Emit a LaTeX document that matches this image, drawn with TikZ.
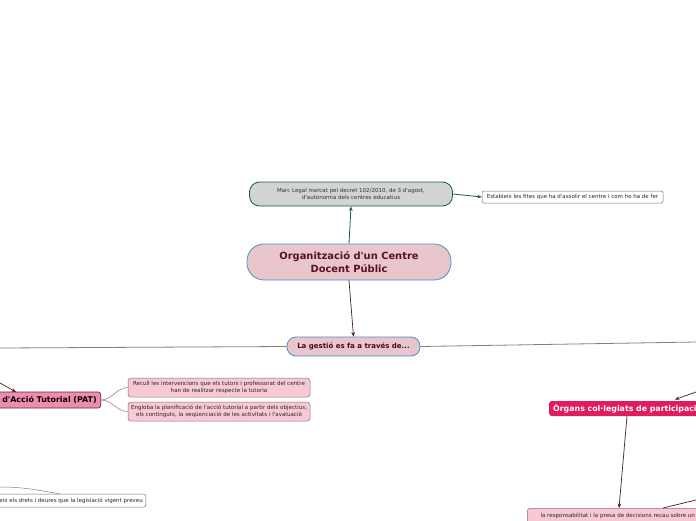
\documentclass[tikz,border=0pt]{standalone}
\usepackage{fontspec}
\setmainfont{DejaVu Sans}[Ligatures=TeXOff]
\usetikzlibrary{arrows.meta}
\definecolor{greenline}{HTML}{1E5A48}
\definecolor{brownline}{HTML}{3E2418}
\definecolor{greyline}{HTML}{8C7E76}
\definecolor{legalfill}{HTML}{D1D4D4}
\definecolor{mainfill}{HTML}{E8C6CB}
\definecolor{mainborder}{HTML}{4A90C8}
\definecolor{maintext}{HTML}{5A1024}
\definecolor{patfill}{HTML}{F08CB2}
\definecolor{patborder}{HTML}{5A2A3A}
\definecolor{subfill}{HTML}{F8C9D5}
\definecolor{subborder}{HTML}{8A6E74}
\definecolor{organfill}{HTML}{E01C5C}
\begin{document}
\begin{tikzpicture}[x=1pt,y=-1pt,
  every node/.style={inner sep=0pt, align=center},
  tip/.style={-{Stealth[length=4.5pt,width=3.5pt]}},
  legalbox/.style={draw=greenline, line width=0.8pt, fill=legalfill, rounded corners=10pt,
    minimum width=203pt, minimum height=24pt, font=\fontsize{5.5}{7.2}\selectfont, text=black!80},
  notebox/.style={draw=black!55, line width=0.5pt, fill=white, rounded corners=2pt,
    minimum height=12pt, font=\fontsize{5.5}{6.5}\selectfont, text=black!85},
  mainbox/.style={draw=mainborder, line width=0.8pt, fill=mainfill, rounded corners=17pt,
    minimum width=204pt, minimum height=36pt, font=\bfseries\fontsize{9.9}{12.5}\selectfont, text=maintext},
  gestbox/.style={draw=mainborder, line width=0.8pt, fill=mainfill, rounded corners=9pt,
    minimum width=133pt, minimum height=19pt, font=\bfseries\fontsize{7}{8}\selectfont, text=maintext!70!black},
  patbox/.style={draw=patborder, line width=0.7pt, fill=patfill, rounded corners=2.5pt,
    minimum height=16pt, font=\bfseries\fontsize{7.9}{9}\selectfont, text=black},
  subbox/.style={draw=subborder, line width=0.5pt, fill=subfill, rounded corners=3pt,
    minimum width=182pt, minimum height=19pt, font=\fontsize{5.55}{6.8}\selectfont, text=black!85},
  organbox/.style={fill=organfill, rounded corners=2.5pt,
    minimum height=15pt, font=\bfseries\fontsize{7.85}{9}\selectfont, text=white},
  greenconn/.style={draw=greenline, line width=0.8pt},
  brownconn/.style={draw=brownline, line width=0.7pt},
  greyconn/.style={draw=greyline, line width=0.8pt},
  thinconn/.style={draw=greyline, line width=0.5pt}
]
\useasboundingbox (0,0) rectangle (696,520);
\fill[white] (0,0) rectangle (696,520);
\clip (0,0) rectangle (696,520);

% nodes
\node[legalbox] (legal) at (351,194) {Marc Legal marcat pel decret 102/2010, de 3 d'agost,\\d'autonomia dels centres educatius};
\node[notebox, minimum width=181pt] (fites) at (572.5,197) {Estableix les fites que ha d'assolir el centre i com ho ha de fer};
\node[mainbox] (main) at (349,262) {Organització d'un Centre\\Docent Públic};
\node[gestbox] (gest) at (353.5,346.5) {La gestió es fa a través de...};
\node[patbox, anchor=east, inner xsep=4pt] (pat) at (101,400) {Pla d'Acció Tutorial (PAT)};
\node[subbox] (recull) at (219,387.5) {Recull les intervencions que els tutors i professorat del centre\\han de realitzar respecte la tutoria};
\node[subbox] (engloba) at (219,411.5) {Engloba la planificació de l'acció tutorial a partir dels objectius,\\els continguts, la seqüenciació de les activitats i l'avaluació};
\node[notebox, anchor=east, minimum height=13pt, inner xsep=3pt] (drets) at (146,500.5) {Estableix els drets i deures que la legislació vigent preveu};
\node[organbox, anchor=west, inner xsep=4pt] (organs) at (549,408.5) {Òrgans col·legiats de participació};
\node[subbox, anchor=north west, minimum width=181pt, minimum height=22pt, text depth=0pt, inner ysep=3pt] (resp) at (527,508) {la responsabilitat i la presa de decisions recau sobre un\\\phantom{x}};

% free ends
\coordinate (leftend) at (0,348);
\coordinate (rightend) at (696,342);
\coordinate (patin) at (0,383);
\coordinate (pattip) at (16,392);
\coordinate (dretsin) at (0,487);
\coordinate (dretstip) at (60,494);
\coordinate (organin) at (696,392);
\coordinate (organtip) at (675,399.5);
\coordinate (respin) at (696,500);
\coordinate (resptip) at (663,508);

% connectors
\draw[greenconn, tip] (main.north) -- (legal.south);
\draw[greenconn, tip] (legal.east) -- (fites.west);
\draw[brownconn, tip] (main.south) -- (gest.north);
\draw[greyconn] (gest.west) -- (leftend);
\draw[greyconn] (gest.east) -- (rightend);
\draw[brownconn, tip] (patin) -- (pattip);
\draw[thinconn] (pat.east) to[out=0, in=180] (recull.west);
\draw[thinconn] (pat.east) to[out=0, in=180] (engloba.west);
\draw[thinconn] (dretsin) to[out=0, in=170] (dretstip);
\draw[brownconn, tip] (organin) -- (organtip);
\draw[brownconn, tip] (organs.south -| 627,0) -- (resp.north -| 619,0);
\draw[brownconn] (respin) -- (resptip);
\end{tikzpicture}
\end{document}
